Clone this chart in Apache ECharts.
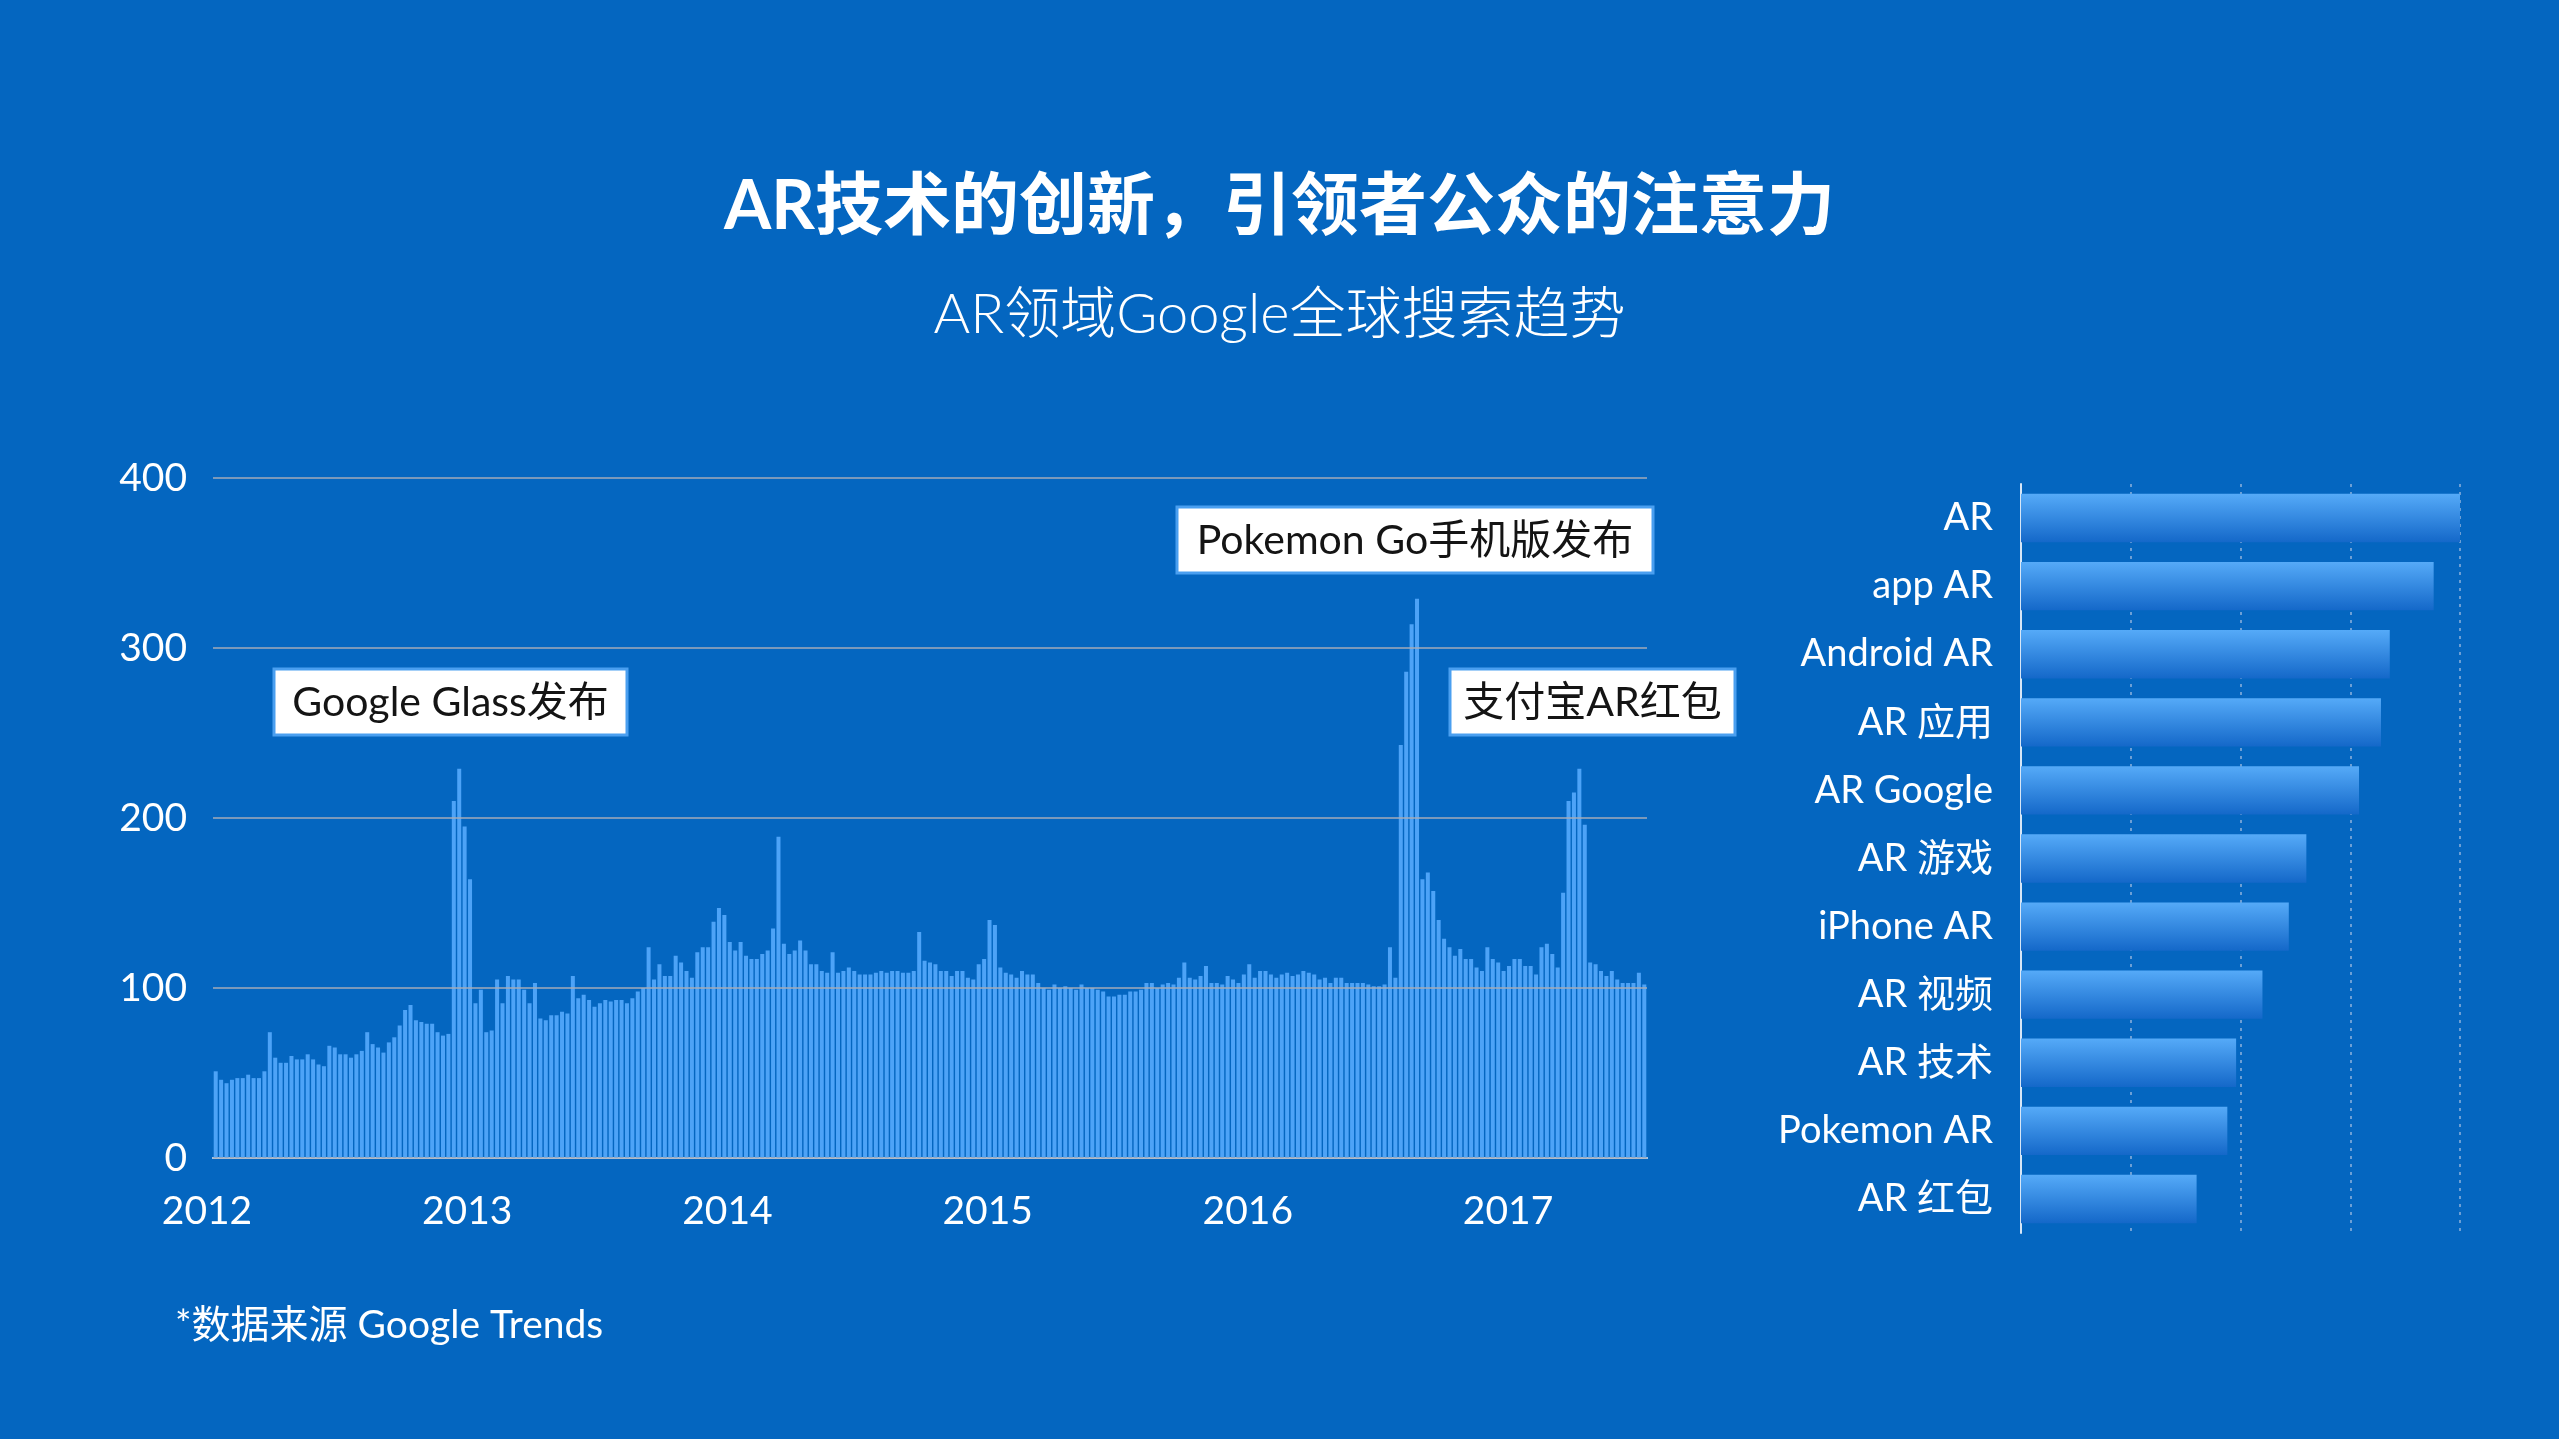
<!DOCTYPE html>
<html>
<head>
    <meta charset="utf-8">
    <title>AR领域Google全球搜索趋势</title>
    <script src="https://cdn.jsdelivr.net/npm/echarts@6/dist/echarts.min.js"></script>
    <style>
        html, body { margin: 0; padding: 0; background: #0466c0; }
    </style>
</head>
<body>
    <div id="main" style="width: 2559px;height:1439px;"></div>
    <script type="text/javascript">
// 每周搜索指数（读自原图，2012年初 ~ 2017年中）
var weeklySearch = [
    51,46,44,46,47,47,49,47,47,51, 74,59,56,56,60,58,58,61,58,55, 54,66,65,61,61,59,61,63,74,67,
    65,62,68,71,78,87,90,81,80,79, 79,74,72,73,210,229,195,164,91,99, 74,75,105,91,107,105,105,99,91,103,
    82,81,84,84,86,85,107,
    94,96,93,89,91,93,92,93,93,91, 94,98,100,124,105,114,107,107,119,115, 110,106,121,124,124,139,147,143,127,122,
    127,119,117,117,120,122,135,189,126,120, 122,128,122,114,114,110,109,121,109,110, 112,110,108,108,108,109,110,109,110,110,
    109,109,110,133,116,115,
    114,110,110,107,110,110,106,105,114,117, 140,137,112,109,108,106,110,108,108,103, 100,99,102,100,101,100,99,102,100,100,
    99,98,95,95,96,96,98,98,99,103, 103,100,102,103,102,106,115,106,105,107, 113,103,103,102,107,105,103,108,114,106,
    110,110,108,106,108,109,107,108,110,
    109,108,105,106,103,106,106,103,103,103, 103,102,101,101,102,124,106,243,286,314, 329,164,168,157,140,129,124,119,123,117,
    117,112,110,124,117,115,110,113,117,117, 113,113,108,124,126,120,112,156,210,215, 229,196,115,114,110,107,110,105,103,103,
    103,109,102
];
var weekIndex = weeklySearch.map(function (v, i) { return i + 1; });
var yearTicks = [2012, 2013, 2014, 2015, 2016, 2017];

// 右侧：相关搜索词
var keywords = ['AR', 'app AR', 'Android AR', 'AR 应用', 'AR Google', 'AR 游戏', 'iPhone AR', 'AR 视频', 'AR 技术', 'Pokemon AR', 'AR 红包'];
var keywordScores = [100, 94, 84, 82, 77, 65, 61, 55, 49, 47, 40];

// 事件标注
var notes = [
    {text: 'Google Glass发布', x: 274, y: 669, w: 353},
    {text: 'Pokemon Go手机版发布', x: 1177, y: 507, w: 476},
    {text: '支付宝AR红包', x: 1450, y: 669, w: 285}
];

var FONT = 'Lato, "Noto Sans CJK SC", sans-serif';
var myChart = echarts.init(document.getElementById('main'));

var noteGraphics = notes.map(function (n) {
    return {
        type: 'group',
        z: 100,
        children: [
            {type: 'rect', shape: {x: n.x, y: n.y, width: n.w, height: 66},
             style: {fill: '#ffffff', stroke: '#4a9ff0', lineWidth: 3}},
            {type: 'text', style: {text: n.text, x: n.x + n.w / 2, y: n.y + 34, align: 'center', verticalAlign: 'middle',
             fontSize: 41, fontFamily: FONT, fill: '#141414'}}
        ]
    };
});

option = {
    backgroundColor: '#0466c0',
    textStyle: {fontFamily: FONT},
    title: [
        {text: 'AR技术的创新，引领者公众的注意力', left: 'center', top: 168,
         textStyle: {color: '#fff', fontSize: 68, fontWeight: 'bold', lineHeight: 68, fontFamily: FONT}},
        {text: 'AR领域Google全球搜索趋势', left: 'center', top: 282,
         textStyle: {color: '#fff', fontSize: 56, fontWeight: 300, lineHeight: 56, fontFamily: FONT}},
        {text: '*数据来源 Google Trends', left: 170, top: 1301,
         textStyle: {color: '#fff', fontSize: 39, fontWeight: 'normal', lineHeight: 39, fontFamily: FONT}}
    ],
    grid: [
        {left: 213, right: 912, top: 478, bottom: 281},
        {left: 207, right: 912, top: 478, bottom: 281},
        {left: 2021, right: 99, top: 484, bottom: 206}
    ],
    xAxis: [
        {type: 'category', gridIndex: 0, data: weekIndex,
         axisLine: {lineStyle: {color: '#d6e6f7', width: 2}},
         axisTick: {show: false}, axisLabel: {show: false}},
        {type: 'value', gridIndex: 1, min: yearTicks[0], max: 2017.534, interval: 1,
         axisLine: {show: false}, axisTick: {show: false}, splitLine: {show: false},
         axisLabel: {color: '#fff', fontSize: 39, margin: 34, showMaxLabel: false,
             formatter: function (v) { return Number.isInteger(v) ? String(v) : ''; }}},
        {type: 'value', gridIndex: 2, min: 0, max: 100, interval: 25,
         axisLine: {show: false}, axisTick: {show: false}, axisLabel: {show: false},
         splitLine: {lineStyle: {type: [3, 5], color: '#8fb3dc', width: 1.5}}}
    ],
    yAxis: [
        {type: 'value', gridIndex: 0, min: 0, max: 400, interval: 100, z: 3,
         axisLine: {show: false}, axisTick: {show: false},
         axisLabel: {color: '#fff', fontSize: 39, margin: 26, padding: [6, 0, 0, 0]},
         splitLine: {lineStyle: {color: '#a3abb8', width: 1.5}}},
        {type: 'value', gridIndex: 1, show: false, min: 0, max: 400},
        {type: 'category', gridIndex: 2, data: keywords, inverse: true,
         axisLine: {lineStyle: {color: '#d6e6f7', width: 2}},
         axisTick: {show: false},
         axisLabel: {color: '#fff', fontSize: 38, margin: 28, padding: [4, 0, 0, 0]}}
    ],
    series: [
        {type: 'bar', xAxisIndex: 0, yAxisIndex: 0, data: weeklySearch,
         barCategoryGap: '26%', itemStyle: {color: '#4da3f7'}, silent: true},
        {type: 'bar', xAxisIndex: 2, yAxisIndex: 2, data: keywordScores,
         barCategoryGap: '29%', silent: true,
         itemStyle: {color: new echarts.graphic.LinearGradient(0, 0, 0, 1, [
             {offset: 0, color: '#55aaf8'},
             {offset: 1, color: '#1468c9'}
         ])}}
    ],
    graphic: noteGraphics
};

myChart.setOption(option);
    </script>
</body>
</html>
